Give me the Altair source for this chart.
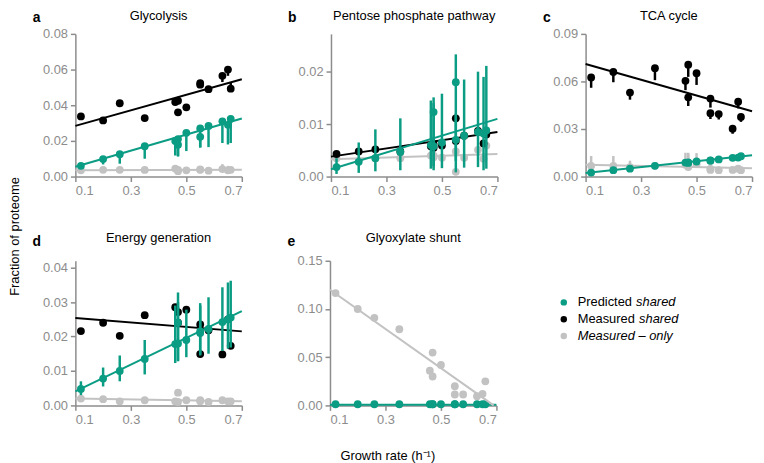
import altair as alt
import pandas as pd

FONT = "Liberation Sans"
TEAL = "#0b9c84"
BLACK = "#000000"
GREY = "#c2c2c2"

# growth rates (h^-1) of the 14 conditions
growth = [0.12, 0.20, 0.26, 0.35, 0.46, 0.47, 0.47, 0.50, 0.55, 0.55, 0.58, 0.63, 0.65, 0.66]
x_ticks = [0.1, 0.3, 0.5, 0.7]
fit_x = [0.1, 0.7]

# ---- a: Glycolysis
gly_pred    = [0.0060, 0.0098, 0.0125, 0.0170, 0.0200, 0.0210, 0.0179, 0.0245, 0.0270, 0.0223, 0.0284, 0.0310, 0.0290, 0.0324]
gly_pred_lo = [0.0055, 0.0068, 0.0072, 0.0100, 0.0118, 0.0115, 0.0112, 0.0143, 0.0163, 0.0163, 0.0165, 0.0188, 0.0180, 0.0188]
gly_meas    = [0.0337, 0.0315, 0.0411, 0.0328, 0.0418, 0.0425, 0.0360, 0.0388, 0.0524, 0.0515, 0.0490, 0.0565, 0.0600, 0.0493]
gly_meas_lo = [0.0337, 0.0315, 0.0411, 0.0328, 0.0418, 0.0425, 0.0360, 0.0388, 0.0524, 0.0515, 0.0490, 0.0530, 0.0565, 0.0493]
gly_meas_hi = [0.0337, 0.0315, 0.0411, 0.0328, 0.0418, 0.0425, 0.0360, 0.0388, 0.0524, 0.0515, 0.0490, 0.0565, 0.0600, 0.0530]
gly_only    = [0.0035, 0.0038, 0.0038, 0.0037, 0.0045, 0.0038, 0.0030, 0.0035, 0.0040, 0.0038, 0.0033, 0.0042, 0.0035, 0.0038]
gly_only_hi = [0.0035, 0.0038, 0.0038, 0.0037, 0.0055, 0.0038, 0.0030, 0.0035, 0.0040, 0.0038, 0.0033, 0.0070, 0.0060, 0.0038]
gly_fit_pred = [0.0055, 0.0326]
gly_fit_meas = [0.0284, 0.0546]
gly_fit_only = [0.0035, 0.0038]

# ---- b: Pentose phosphate pathway
ppp_pred    = [0.0018, 0.0028, 0.0035, 0.0047, 0.0060, 0.0123, 0.0058, 0.0065, 0.0180, 0.0070, 0.0078, 0.0085, 0.0082, 0.0088]
ppp_pred_lo = [0.0005, 0.0007, 0.0010, 0.0012, 0.0015, 0.0020, 0.0012, 0.0016, 0.0008, 0.0030, 0.0017, 0.0018, 0.0012, 0.0015]
ppp_pred_hi = [0.0035, 0.0065, 0.0090, 0.0111, 0.0145, 0.0151, 0.0140, 0.0158, 0.0233, 0.0120, 0.0185, 0.0200, 0.0190, 0.0211]
ppp_meas    = [0.0043, 0.0048, 0.0052, 0.0048, 0.0058, 0.0055, 0.0062, 0.0059, 0.0111, 0.0068, 0.0078, 0.0087, 0.0063, 0.0080]
ppp_only    = [0.0035, 0.0030, 0.0035, 0.0035, 0.0040, 0.0037, 0.0040, 0.0036, 0.0009, 0.0048, 0.0036, 0.0051, 0.0034, 0.0059]
ppp_only_lo = [0.0035, 0.0030, 0.0035, 0.0035, 0.0040, 0.0016, 0.0040, 0.0036, 0.0009, 0.0048, 0.0036, 0.0051, 0.0034, 0.0059]
ppp_fit_pred = [0.0014, 0.0110]
ppp_fit_meas = [0.0038, 0.0085]
ppp_fit_only = [0.0033, 0.0043]

# ---- c: TCA cycle
tca_meas    = [0.0625, 0.0660, 0.0530, 0.0684, 0.0604, 0.0706, 0.0500, 0.0652, 0.0492, 0.0400, 0.0394, 0.0302, 0.0472, 0.0376]
tca_meas_lo = [0.0560, 0.0595, 0.0485, 0.0608, 0.0545, 0.0629, 0.0445, 0.0578, 0.0435, 0.0363, 0.0360, 0.0270, 0.0430, 0.0345]
tca_pred    = [0.0025, 0.0040, 0.0050, 0.0068, 0.0088, 0.0090, 0.0086, 0.0095, 0.0102, 0.0100, 0.0108, 0.0118, 0.0120, 0.0128]
tca_pred_lo = [0.0025, 0.0040, 0.0050, 0.0068, 0.0078, 0.0080, 0.0076, 0.0085, 0.0090, 0.0088, 0.0095, 0.0105, 0.0105, 0.0113]
tca_pred_hi = [0.0025, 0.0040, 0.0050, 0.0068, 0.0098, 0.0100, 0.0096, 0.0105, 0.0114, 0.0112, 0.0121, 0.0131, 0.0135, 0.0143]
tca_only    = [0.0068, 0.0068, 0.0060, 0.0068, 0.0075, 0.0060, 0.0068, 0.0078, 0.0042, 0.0048, 0.0040, 0.0042, 0.0050, 0.0040]
tca_only_hi = [0.0130, 0.0130, 0.0100, 0.0068, 0.0150, 0.0150, 0.0140, 0.0148, 0.0090, 0.0048, 0.0040, 0.0042, 0.0050, 0.0040]
tca_fit_pred = [0.0022, 0.0135]
tca_fit_meas = [0.0710, 0.0412]
tca_fit_only = [0.0075, 0.0052]

# ---- d: Energy generation
en_pred    = [0.0048, 0.0078, 0.0100, 0.0135, 0.0178, 0.0240, 0.0180, 0.0190, 0.0210, 0.0215, 0.0222, 0.0242, 0.0250, 0.0255]
en_pred_lo = [0.0030, 0.0055, 0.0070, 0.0090, 0.0123, 0.0128, 0.0130, 0.0140, 0.0145, 0.0148, 0.0150, 0.0158, 0.0165, 0.0168]
en_pred_hi = [0.0070, 0.0110, 0.0145, 0.0190, 0.0290, 0.0328, 0.0300, 0.0278, 0.0297, 0.0290, 0.0314, 0.0343, 0.0357, 0.0362]
en_meas    = [0.0216, 0.0240, 0.0202, 0.0262, 0.0285, 0.0271, 0.0240, 0.0278, 0.0235, 0.0149, 0.0218, 0.0148, 0.0250, 0.0173]
en_only    = [0.0020, 0.0018, 0.0012, 0.0015, 0.0012, 0.0037, 0.0010, 0.0015, 0.0015, 0.0012, 0.0010, 0.0015, 0.0012, 0.0012]
en_fit_pred = [0.0041, 0.0274]
en_fit_meas = [0.0254, 0.0215]
en_fit_only = [0.0020, 0.0012]

# ---- e: Glyoxylate shunt
gs_pred = [0.0012, 0.0012, 0.0012, 0.0012, 0.0012, 0.0012, 0.0012, 0.0012, 0.0012, 0.0012, 0.0012, 0.0012, 0.0012, 0.0012]
gs_only = [0.1165, 0.1000, 0.0908, 0.0790, 0.0360, 0.0548, 0.0300, 0.0420, 0.0199, 0.0113, 0.0113, 0.0096, 0.0120, 0.0250]
gs_fit_pred_x = [0.1, 0.7]
gs_fit_pred = [0.0008, 0.0008]
gs_fit_only_x = [0.1, 0.69]
gs_fit_only = [0.1200, 0.0]

legend_plain = ["Predicted ", "Measured ", ""]
legend_italic = ["shared", "shared", "Measured \u2013 only"]
legend_colors = [TEAL, BLACK, GREY]

PW = 168


def panel(title, letter, ymax, yticks, groups, height, title_y, letter_y):
    xs = alt.Scale(domain=[0.1, 0.7], nice=False, zero=False, padding=0)
    ys = alt.Scale(domain=[0, ymax], nice=False, zero=True, padding=0)
    xax = alt.Axis(values=x_ticks, format=".1f", title=None)
    yax = alt.Axis(values=yticks, format=".2f", title=None)
    layers = []
    for vals, lo, hi, fx, fy, color in groups:
        df = pd.DataFrame({"g": growth, "v": vals, "lo": lo, "hi": hi})
        base = alt.Chart(df)
        layers.append(
            base.mark_rule(color=color, strokeWidth=2.5).encode(
                x=alt.X("g:Q", scale=xs, axis=xax),
                y=alt.Y("lo:Q", scale=ys, axis=yax),
                y2="hi:Q",
            )
        )
        layers.append(
            alt.Chart(pd.DataFrame({"g": fx, "v": fy})).mark_line(color=color, strokeWidth=2).encode(
                x=alt.X("g:Q", scale=xs, axis=xax),
                y=alt.Y("v:Q", scale=ys, axis=yax),
            )
        )
        layers.append(
            base.mark_circle(color=color, size=62, opacity=1).encode(
                x=alt.X("g:Q", scale=xs, axis=xax),
                y=alt.Y("v:Q", scale=ys, axis=yax),
            )
        )
    lab = pd.DataFrame({"t": [letter], "title": [title]})
    layers.append(
        alt.Chart(lab).mark_text(
            font=FONT, fontSize=14, fontWeight="bold", align="center", baseline="alphabetic", color="black"
        ).encode(text="t:N", x=alt.value(-39), y=alt.value(letter_y))
    )
    layers.append(
        alt.Chart(lab).mark_text(
            font=FONT, fontSize=13, align="center", baseline="alphabetic", color="black"
        ).encode(text="title:N", x=alt.value(PW / 2), y=alt.value(title_y))
    )
    return alt.layer(*layers).properties(width=PW, height=height)


R1 = dict(height=144, title_y=-14, letter_y=-12)
R2 = dict(height=146, title_y=-19, letter_y=-15)

pa = panel("Glycolysis", "a", 0.08, [0, 0.02, 0.04, 0.06, 0.08], [
    (gly_only, gly_only, gly_only_hi, fit_x, gly_fit_only, GREY),
    (gly_meas, gly_meas_lo, gly_meas_hi, fit_x, gly_fit_meas, BLACK),
    (gly_pred, gly_pred_lo, gly_pred, fit_x, gly_fit_pred, TEAL),
], **R1)
pb = panel("Pentose phosphate pathway", "b", 0.0272, [0, 0.01, 0.02], [
    (ppp_only, ppp_only_lo, ppp_only, fit_x, ppp_fit_only, GREY),
    (ppp_meas, ppp_meas, ppp_meas, fit_x, ppp_fit_meas, BLACK),
    (ppp_pred, ppp_pred_lo, ppp_pred_hi, fit_x, ppp_fit_pred, TEAL),
], **R1)
pc = panel("TCA cycle", "c", 0.09, [0, 0.03, 0.06, 0.09], [
    (tca_only, tca_only, tca_only_hi, fit_x, tca_fit_only, GREY),
    (tca_meas, tca_meas_lo, tca_meas, fit_x, tca_fit_meas, BLACK),
    (tca_pred, tca_pred_lo, tca_pred_hi, fit_x, tca_fit_pred, TEAL),
], **R1)
pd_ = panel("Energy generation", "d", 0.042, [0, 0.01, 0.02, 0.03, 0.04], [
    (en_only, en_only, en_only, fit_x, en_fit_only, GREY),
    (en_meas, en_meas, en_meas, fit_x, en_fit_meas, BLACK),
    (en_pred, en_pred_lo, en_pred_hi, fit_x, en_fit_pred, TEAL),
], **R2)
pe = panel("Glyoxylate shunt", "e", 0.15, [0, 0.05, 0.10, 0.15], [
    (gs_pred, gs_pred, gs_pred, gs_fit_pred_x, gs_fit_pred, TEAL),
    (gs_only, gs_only, gs_only, gs_fit_only_x, gs_fit_only, GREY),
], **R2)

# manual legend with mixed upright / italic text
leg_layers = []
italic_dx = [59, 62, 0]
for i in range(3):
    ldf = pd.DataFrame({"p": [legend_plain[i]], "it": [legend_italic[i]]})
    yv = 42 + 17 * i
    leg_layers.append(alt.Chart(ldf).mark_circle(color=legend_colors[i], size=42, opacity=1).encode(
        x=alt.value(22), y=alt.value(yv)))
    leg_layers.append(alt.Chart(ldf).mark_text(font=FONT, fontSize=13, align="left", baseline="middle",
                                               color="black").encode(text="p:N", x=alt.value(36), y=alt.value(yv)))
    leg_layers.append(alt.Chart(ldf).mark_text(font=FONT, fontSize=13, fontStyle="italic", align="left",
                                               baseline="middle", color="black").encode(
        text="it:N", x=alt.value(36 + italic_dx[i]), y=alt.value(yv)))
legend = alt.layer(*leg_layers).properties(width=203, height=146)

row1 = alt.hconcat(pa, pb, pc, spacing=42)
row2 = alt.hconcat(pd_, pe, legend, spacing=42).properties(
    title=alt.TitleParams("Growth rate (h\u207b\u00b9)", orient="bottom", anchor="middle", font=FONT,
                          fontSize=13, fontWeight="normal", color="black", offset=24)
)

chart = alt.vconcat(row1, row2, spacing=35).properties(
    title=alt.TitleParams("Fraction of proteome", orient="left", anchor="middle", font=FONT, fontSize=13,
                          fontWeight="normal", color="black", offset=11),
    padding={"left": 0, "top": 0, "right": 0, "bottom": 0},
).configure_view(stroke=None).configure_axis(
    domainColor="#8c8c8c", tickColor="#8c8c8c", labelColor="#8c8c8c", labelFont=FONT, labelFontSize=13,
    tickSize=5, domainWidth=1.5, tickWidth=1.5, grid=False, labelPadding=3,
)

chart.save("out.html", embed_options={"renderer": "svg", "actions": False})
